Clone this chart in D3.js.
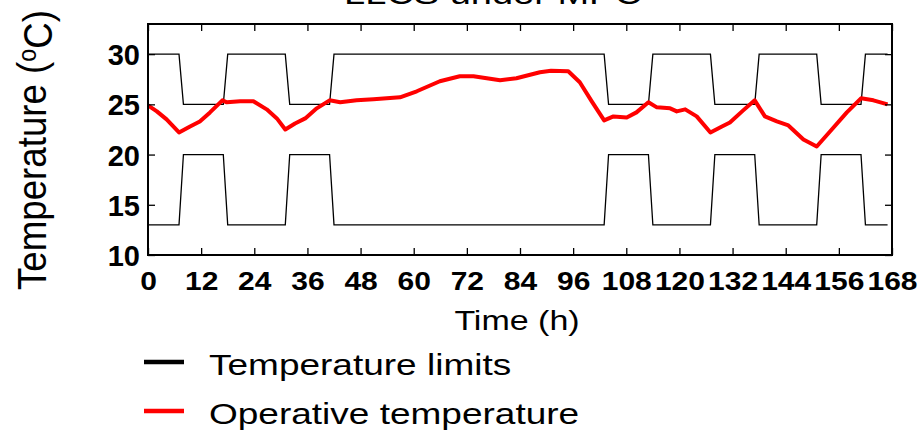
<!DOCTYPE html>
<html>
<head>
<meta charset="utf-8">
<script src="https://cdn.jsdelivr.net/npm/d3@7"></script>
<style>
  body { margin: 0; background: #fff; }
  text { font-family: "Liberation Sans", Arial, sans-serif; fill: #000; }
</style>
</head>
<body>
<div id="chart"></div>
<script>
// temperature limits, breakpoints in hours (linear between)
const limitHours = [0, 7, 8, 17, 18, 31, 32, 41, 42, 103, 104, 113, 114, 127, 128, 137, 138, 151, 152, 161, 162, 167];
const upperLimit = [30, 30, 25, 25, 30, 30, 25, 25, 30, 30, 25, 25, 30, 30, 25, 25, 30, 30, 25, 25, 30, 30];
const lowerLimit = [13, 13, 20, 20, 13, 13, 20, 20, 13, 13, 20, 20, 13, 13, 20, 20, 13, 13, 20, 20, 13, 13];

// operative temperature
const opHours = [0, 2, 4.2, 7, 9.5, 11.7, 14, 16.8, 17.8, 20.8, 23.8, 26.8, 29.1, 31, 33.2, 35.5, 38.1, 41,
  43.4, 47.1, 50.9, 56.9, 60.7, 65.9, 70.4, 73.5, 79.5, 83.2, 88.5, 91, 94.9, 97.5, 100.2, 103,
  105.1, 108.1, 110.3, 113, 114.9, 117.9, 119.4, 121.3, 123.9, 127, 129.6, 131.4, 134.4, 137,
  139.3, 142, 144.6, 148, 151, 154, 157.8, 161, 163.8, 167];
const opTemp = [24.9, 24.3, 23.5, 22.2, 22.8, 23.3, 24.2, 25.4, 25.2, 25.3, 25.3, 24.5, 23.6, 22.5, 23.1, 23.6, 24.6, 25.4,
  25.2, 25.4, 25.5, 25.7, 26.3, 27.3, 27.8, 27.8, 27.4, 27.6, 28.2, 28.35, 28.3, 27.2, 25.3, 23.4,
  23.8, 23.7, 24.2, 25.2, 24.7, 24.6, 24.3, 24.5, 23.8, 22.2, 22.8, 23.2, 24.4, 25.4,
  23.8, 23.3, 22.9, 21.5, 20.8, 22.3, 24.2, 25.6, 25.4, 25.0];

const xTicks = d3.range(0, 169, 12);
const yTicks = [10, 15, 20, 25, 30];

const W = 920, H = 434;
const margin = { top: 24, right: 28, bottom: 179, left: 148 };

const svg = d3.select("#chart").append("svg")
  .attr("width", W).attr("height", H);

const x = d3.scaleLinear().domain([0, 168]).range([margin.left, W - margin.right]);
const y = d3.scaleLinear().domain([10, 33]).range([H - margin.bottom, margin.top]);

// title (mostly cut off at the top)
svg.append("text")
  .attr("transform", "translate(493,4) scale(1,0.8)")
  .attr("text-anchor", "middle")
  .style("font-size", "38px")
  .text("LLCS under MPC");

// limit lines
const line = d3.line().x(d => x(d[0])).y(d => y(d[1]));
[upperLimit, lowerLimit].forEach(vals => {
  svg.append("path")
    .datum(limitHours.map((h, i) => [h, vals[i]]))
    .attr("fill", "none")
    .attr("stroke", "#000")
    .attr("stroke-width", 1.3)
    .attr("d", line);
});

svg.append("path")
  .datum(opHours.map((h, i) => [h, opTemp[i]]))
  .attr("fill", "none")
  .attr("stroke", "#ff0000")
  .attr("stroke-width", 4)
  .attr("stroke-linejoin", "round")
  .attr("d", line);

// axes, ticks pointing inward on all sides
const x0 = x.range()[0], x1 = x.range()[1];
const y0 = y.range()[0], y1 = y.range()[1];

const xb = svg.append("g").attr("transform", `translate(0,${y0})`)
  .call(d3.axisBottom(x).tickValues(xTicks).tickSize(-7).tickPadding(0).tickSizeOuter(0));
xb.selectAll("text")
  .attr("y", 0)
  .attr("dy", 0)
  .attr("transform", "translate(0,35) scale(1,0.85)")
  .style("font-size", "30px").style("font-weight", "bold");

svg.append("g").attr("transform", `translate(0,${y1})`)
  .call(d3.axisTop(x).tickValues(xTicks).tickSize(-7).tickSizeOuter(0).tickFormat(""));

const yl = svg.append("g").attr("transform", `translate(${x0},0)`)
  .call(d3.axisLeft(y).tickValues(yTicks).tickSize(-7).tickPadding(8).tickSizeOuter(0));
yl.selectAll("text")
  .attr("dy", "0.36em")
  .style("font-size", "29px").style("font-weight", "bold");

svg.append("g").attr("transform", `translate(${x1},0)`)
  .call(d3.axisRight(y).tickValues(yTicks).tickSize(-7).tickSizeOuter(0).tickFormat(""));

svg.selectAll(".domain").remove();
svg.selectAll(".tick line").attr("stroke", "#000").attr("stroke-width", 1.3);

svg.append("rect")
  .attr("x", x0).attr("y", y1)
  .attr("width", x1 - x0).attr("height", y0 - y1)
  .attr("fill", "none").attr("stroke", "#000").attr("stroke-width", 2);

// axis labels
svg.append("text")
  .attr("transform", `translate(${(x0 + x1) / 2 - 3},330) scale(1,0.82)`)
  .attr("text-anchor", "middle")
  .style("font-size", "34px")
  .text("Time (h)");

const ylab = svg.append("text")
  .attr("transform", "translate(46,150) rotate(-90)")
  .attr("text-anchor", "middle")
  .attr("textLength", 280)
  .attr("lengthAdjust", "spacingAndGlyphs")
  .style("font-size", "41px");
ylab.append("tspan").text("Temperature (");
ylab.append("tspan").attr("dy", "-0.4em").style("font-size", "26px").text("o");
ylab.append("tspan").attr("dy", "0.4em").text("C)");

// legend
const legendItems = [
  { label: "Temperature limits", color: "#000", y: 362 },
  { label: "Operative temperature", color: "#ff0000", y: 411 }
];
const lg = svg.append("g");
lg.selectAll("line").data(legendItems).enter().append("line")
  .attr("x1", 144).attr("x2", 184)
  .attr("y1", d => d.y).attr("y2", d => d.y)
  .attr("stroke", d => d.color).attr("stroke-width", 4.5);
lg.selectAll("text").data(legendItems).enter().append("text")
  .attr("transform", d => `translate(209,${d.y + 13}) scale(1,0.8)`)
  .style("font-size", "37px")
  .text(d => d.label);
</script>
</body>
</html>
